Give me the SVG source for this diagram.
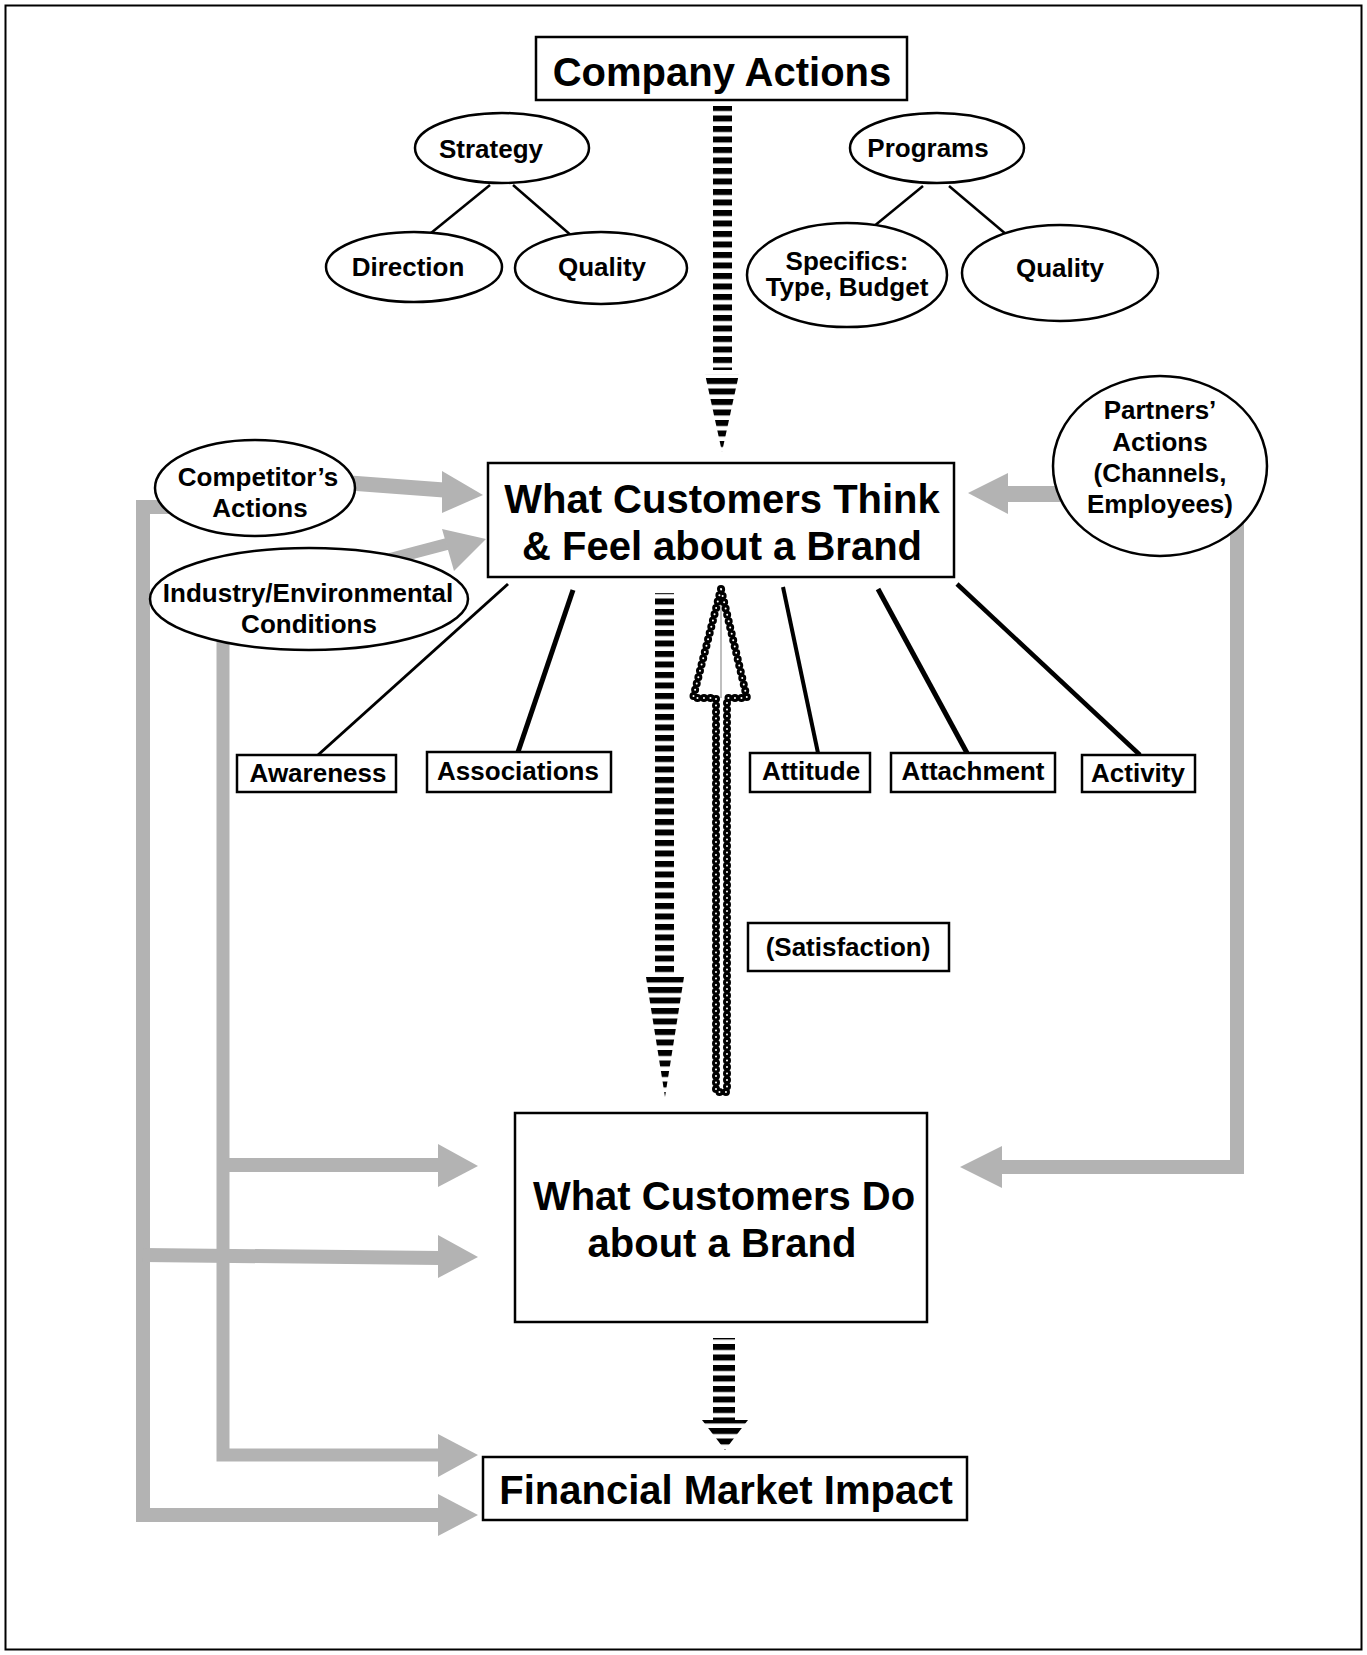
<svg xmlns="http://www.w3.org/2000/svg" width="1367" height="1655" viewBox="0 0 1367 1655">
<defs>
<pattern id="stripes" width="20" height="10.5" patternUnits="userSpaceOnUse">
<rect x="0" y="0" width="20" height="6" fill="#000"/>
</pattern>
<style>
text{font-family:"Liberation Sans",Arial,sans-serif;font-weight:bold;fill:#000;text-anchor:middle}
.big{font-size:40px}
.sm{font-size:26px}
.box{fill:#fff;stroke:#000;stroke-width:2.5}
.ell{fill:#fff;stroke:#000;stroke-width:2.5}
.thin{stroke:#000;stroke-width:2.5;fill:none}
.gl{stroke:#b3b3b3;fill:none;stroke-linejoin:miter}
.gh{fill:#b3b3b3}
.str{fill:url(#stripes)}
.dotb{fill:none;stroke:#000;stroke-width:8;stroke-dasharray:0 6.5;stroke-linecap:round;stroke-linejoin:round}
.dotw{fill:none;stroke:#fff;stroke-width:2;stroke-dasharray:0 6.5;stroke-linecap:round;stroke-linejoin:round}
</style>
</defs>
<rect x="5.5" y="5.5" width="1356" height="1644" fill="#fff" stroke="#000" stroke-width="2"/>
<g id="connectors">
<rect class="str" x="713" y="106" width="19" height="264"/>
<polygon class="str" points="705,374 739,374 722,452"/>
<rect class="str" x="655" y="593" width="19" height="380"/>
<polygon class="str" points="646,977 684,977 665,1097"/>
<rect class="str" x="713" y="1338" width="22" height="82"/>
<polygon class="str" points="702,1420 748,1420 725,1450"/>
<line x1="721" y1="592" x2="721" y2="698" stroke="#aaa" stroke-width="1.5"/>
<polygon class="dotb" points="721,589 693,698 716,698 716,1092 727,1092 727,698 747,698"/>
<polygon class="dotw" points="721,589 693,698 716,698 716,1092 727,1092 727,698 747,698"/>
<line class="thin" x1="490" y1="185" x2="431" y2="233"/>
<line class="thin" x1="513" y1="185" x2="573" y2="237"/>
<line class="thin" x1="923" y1="186" x2="873" y2="227"/>
<line class="thin" x1="949" y1="186" x2="1007" y2="235"/>
<line stroke="#000" stroke-width="3" x1="508" y1="584" x2="318" y2="755"/>
<line stroke="#000" stroke-width="5" x1="573" y1="590" x2="518" y2="752"/>
<line stroke="#000" stroke-width="4" x1="783" y1="587" x2="818" y2="753"/>
<line stroke="#000" stroke-width="5" x1="878" y1="589" x2="967" y2="753"/>
<line stroke="#000" stroke-width="4.5" x1="957" y1="584" x2="1140" y2="755"/>
<path class="gl" stroke-width="14" d="M170,507 H143 V1515 H440"/>
<polygon class="gh" points="438,1494 438,1536 478,1515"/>
<path class="gl" stroke-width="14" d="M143,1255 L440,1258"/>
<polygon class="gh" points="438,1235 438,1278 478,1257"/>
<path class="gl" stroke-width="13" d="M223,630 V1455 H440"/>
<polygon class="gh" points="438,1434 438,1477 478,1455"/>
<path class="gl" stroke-width="14" d="M223,1165 H440"/>
<polygon class="gh" points="438,1144 438,1187 478,1166"/>
<path class="gl" stroke-width="14" d="M1237,520 V1167 H1000"/>
<polygon class="gh" points="1002,1146 1002,1188 960,1167"/>
<path class="gl" stroke-width="16" d="M1060,494 H1006"/>
<polygon class="gh" points="1008,473 1008,514 968,493"/>
<path class="gl" stroke-width="15" d="M350,483 L444,490"/>
<polygon class="gh" points="442,471 442,513 483,495"/>
<path class="gl" stroke-width="12" d="M390,559 L447,544"/>
<polygon class="gh" points="442,529 454,571 486,539"/>
</g>
<g id="company-actions">
<rect class="box" x="536" y="37" width="371" height="63"/>
<text class="big" x="722" y="86">Company Actions</text>
</g>
<g id="strategy">
<ellipse class="ell" cx="502" cy="148" rx="87" ry="35"/>
<text class="sm" x="491" y="158">Strategy</text>
</g>
<g id="direction">
<ellipse class="ell" cx="414" cy="267" rx="88" ry="35"/>
<text class="sm" x="408" y="276">Direction</text>
</g>
<g id="strategy-quality">
<ellipse class="ell" cx="601" cy="268" rx="86" ry="36"/>
<text class="sm" x="602" y="276">Quality</text>
</g>
<g id="programs">
<ellipse class="ell" cx="937" cy="148" rx="87" ry="35"/>
<text class="sm" x="928" y="157">Programs</text>
</g>
<g id="specifics">
<ellipse class="ell" cx="847" cy="275" rx="100" ry="52"/>
<text class="sm" x="847" y="270">Specifics:</text>
<text class="sm" x="847" y="296">Type, Budget</text>
</g>
<g id="programs-quality">
<ellipse class="ell" cx="1060" cy="273" rx="98" ry="48"/>
<text class="sm" x="1060" y="277">Quality</text>
</g>
<g id="think-feel">
<rect class="box" x="488" y="463" width="466" height="114"/>
<text class="big" x="722" y="513">What Customers Think</text>
<text class="big" x="722" y="560">&amp; Feel about a Brand</text>
</g>
<g id="competitors">
<ellipse class="ell" cx="255" cy="488" rx="100" ry="48"/>
<text class="sm" x="258" y="486">Competitor’s</text>
<text class="sm" x="260" y="517">Actions</text>
</g>
<g id="industry">
<ellipse class="ell" cx="309" cy="599" rx="159" ry="51"/>
<text class="sm" x="308" y="602">Industry/Environmental</text>
<text class="sm" x="309" y="633">Conditions</text>
</g>
<g id="partners">
<ellipse class="ell" cx="1160" cy="466" rx="107" ry="90"/>
<text class="sm" x="1160" y="419">Partners’</text>
<text class="sm" x="1160" y="451">Actions</text>
<text class="sm" x="1160" y="482">(Channels,</text>
<text class="sm" x="1160" y="513">Employees)</text>
</g>
<g id="awareness">
<rect class="box" x="237" y="755" width="159" height="37"/>
<text class="sm" x="318" y="782">Awareness</text>
</g>
<g id="associations">
<rect class="box" x="427" y="752" width="184" height="40"/>
<text class="sm" x="518" y="780">Associations</text>
</g>
<g id="attitude">
<rect class="box" x="750" y="753" width="120" height="39"/>
<text class="sm" x="811" y="780">Attitude</text>
</g>
<g id="attachment">
<rect class="box" x="891" y="753" width="164" height="39"/>
<text class="sm" x="973" y="780">Attachment</text>
</g>
<g id="activity">
<rect class="box" x="1082" y="755" width="113" height="37"/>
<text class="sm" x="1138" y="782">Activity</text>
</g>
<g id="satisfaction">
<rect class="box" x="748" y="923" width="201" height="48"/>
<text class="sm" x="848" y="956">(Satisfaction)</text>
</g>
<g id="customers-do">
<rect class="box" x="515" y="1113" width="412" height="209"/>
<text class="big" x="724" y="1210">What Customers Do</text>
<text class="big" x="722" y="1257">about a Brand</text>
</g>
<g id="financial">
<rect class="box" x="483" y="1457" width="484" height="63"/>
<text class="big" x="726" y="1504">Financial Market Impact</text>
</g>
</svg>
